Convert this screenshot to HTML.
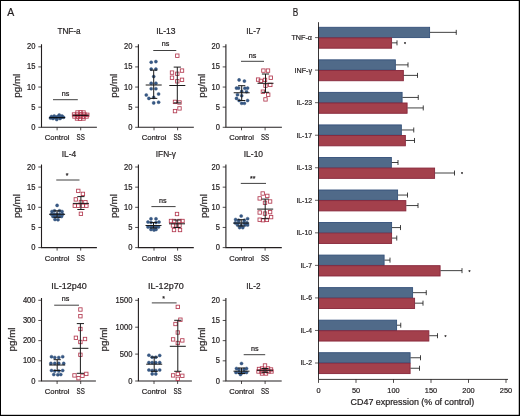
<!DOCTYPE html>
<html><head><meta charset="utf-8"><style>
html,body{margin:0;padding:0;background:#fff;}
body{width:520px;height:416px;overflow:hidden;position:relative;}
svg{position:absolute;left:0;top:0;display:block;will-change:transform;}
text{font-family:"Liberation Sans", sans-serif;fill:#231f20;stroke:#231f20;stroke-width:0.22px;}
</style></head><body>
<svg width="520" height="416" viewBox="0 0 520 416">
<rect x="0" y="0" width="520" height="416" fill="#ffffff"/>
<text x="7.2" y="16.1" font-size="11.2" text-anchor="start" textLength="7.0" lengthAdjust="spacingAndGlyphs">A</text>
<text x="292.8" y="15.8" font-size="11.0" text-anchor="start" textLength="5.5" lengthAdjust="spacingAndGlyphs">B</text>
<text x="69.0" y="34.0" font-size="9.2" text-anchor="middle" textLength="23.2" lengthAdjust="spacingAndGlyphs">TNF-a</text><text x="0" y="0" font-size="9" text-anchor="middle" textLength="24" lengthAdjust="spacingAndGlyphs" transform="translate(19.5,85.75) rotate(-90)">pg/ml</text><path d="M41.5,44.2V127.3H96.9" fill="none" stroke="#231f20" stroke-width="1.1"/><path d="M38.3,127.30H41.5" stroke="#231f20" stroke-width="0.8"/><text x="35.5" y="129.80" font-size="8.3" text-anchor="end" textLength="4.2" lengthAdjust="spacingAndGlyphs">0</text><path d="M38.3,107.17H41.5" stroke="#231f20" stroke-width="0.8"/><text x="35.5" y="109.67" font-size="8.3" text-anchor="end" textLength="4.2" lengthAdjust="spacingAndGlyphs">5</text><path d="M38.3,87.05H41.5" stroke="#231f20" stroke-width="0.8"/><text x="35.5" y="89.55" font-size="8.3" text-anchor="end" textLength="8.4" lengthAdjust="spacingAndGlyphs">10</text><path d="M38.3,66.92H41.5" stroke="#231f20" stroke-width="0.8"/><text x="35.5" y="69.42" font-size="8.3" text-anchor="end" textLength="8.4" lengthAdjust="spacingAndGlyphs">15</text><path d="M38.3,46.80H41.5" stroke="#231f20" stroke-width="0.8"/><text x="35.5" y="49.30" font-size="8.3" text-anchor="end" textLength="8.4" lengthAdjust="spacingAndGlyphs">20</text><path d="M57.1,127.3v3" stroke="#231f20" stroke-width="0.8"/><text x="57.1" y="140.3" font-size="8.1" text-anchor="middle" textLength="24.7" lengthAdjust="spacingAndGlyphs">Control</text><path d="M80.7,127.3v3" stroke="#231f20" stroke-width="0.8"/><text x="80.7" y="140.3" font-size="8.6" text-anchor="middle" textLength="8.2" lengthAdjust="spacingAndGlyphs">SS</text><path d="M53,99.7H77.8" stroke="#404040" stroke-width="1.0"/><text x="65.6" y="95.5" font-size="7" text-anchor="middle" textLength="7.6" lengthAdjust="spacingAndGlyphs">ns</text><circle cx="51.5" cy="116.5" r="1.55" fill="#375987" stroke="#2a4870" stroke-width="0.4"/><circle cx="54.25" cy="116" r="1.55" fill="#375987" stroke="#2a4870" stroke-width="0.4"/><circle cx="59.25" cy="115" r="1.55" fill="#375987" stroke="#2a4870" stroke-width="0.4"/><circle cx="62" cy="116" r="1.55" fill="#375987" stroke="#2a4870" stroke-width="0.4"/><circle cx="63.5" cy="117.3" r="1.55" fill="#375987" stroke="#2a4870" stroke-width="0.4"/><circle cx="50.5" cy="118" r="1.55" fill="#375987" stroke="#2a4870" stroke-width="0.4"/><circle cx="56.75" cy="119.5" r="1.55" fill="#375987" stroke="#2a4870" stroke-width="0.4"/><circle cx="53" cy="118.5" r="1.55" fill="#375987" stroke="#2a4870" stroke-width="0.4"/><circle cx="60" cy="118.5" r="1.55" fill="#375987" stroke="#2a4870" stroke-width="0.4"/><circle cx="57" cy="117" r="1.55" fill="#375987" stroke="#2a4870" stroke-width="0.4"/><circle cx="55" cy="117.5" r="1.55" fill="#375987" stroke="#2a4870" stroke-width="0.4"/><circle cx="61" cy="117.5" r="1.55" fill="#375987" stroke="#2a4870" stroke-width="0.4"/><circle cx="58" cy="116.5" r="1.55" fill="#375987" stroke="#2a4870" stroke-width="0.4"/><rect x="75.80" y="110.80" width="3.4" height="3.4" fill="none" stroke="#b33a50" stroke-width="0.85"/><rect x="78.80" y="110.60" width="3.4" height="3.4" fill="none" stroke="#b33a50" stroke-width="0.85"/><rect x="81.80" y="110.80" width="3.4" height="3.4" fill="none" stroke="#b33a50" stroke-width="0.85"/><rect x="72.30" y="112.80" width="3.4" height="3.4" fill="none" stroke="#b33a50" stroke-width="0.85"/><rect x="75.30" y="112.80" width="3.4" height="3.4" fill="none" stroke="#b33a50" stroke-width="0.85"/><rect x="79.30" y="112.60" width="3.4" height="3.4" fill="none" stroke="#b33a50" stroke-width="0.85"/><rect x="82.80" y="112.80" width="3.4" height="3.4" fill="none" stroke="#b33a50" stroke-width="0.85"/><rect x="85.60" y="113.10" width="3.4" height="3.4" fill="none" stroke="#b33a50" stroke-width="0.85"/><rect x="72.80" y="114.80" width="3.4" height="3.4" fill="none" stroke="#b33a50" stroke-width="0.85"/><rect x="76.30" y="115.00" width="3.4" height="3.4" fill="none" stroke="#b33a50" stroke-width="0.85"/><rect x="78.80" y="114.80" width="3.4" height="3.4" fill="none" stroke="#b33a50" stroke-width="0.85"/><rect x="81.30" y="115.00" width="3.4" height="3.4" fill="none" stroke="#b33a50" stroke-width="0.85"/><rect x="84.80" y="114.80" width="3.4" height="3.4" fill="none" stroke="#b33a50" stroke-width="0.85"/><rect x="75.30" y="116.80" width="3.4" height="3.4" fill="none" stroke="#b33a50" stroke-width="0.85"/><rect x="78.30" y="117.10" width="3.4" height="3.4" fill="none" stroke="#b33a50" stroke-width="0.85"/><rect x="81.80" y="116.80" width="3.4" height="3.4" fill="none" stroke="#b33a50" stroke-width="0.85"/><path d="M49.1,117.7H65.1" stroke="#000" stroke-width="1.0" fill="none"/><path d="M72.7,115.3H88.7" stroke="#000" stroke-width="1.0" fill="none"/><text x="165.9" y="34.0" font-size="9.2" text-anchor="middle" textLength="19.5" lengthAdjust="spacingAndGlyphs">IL-13</text><text x="0" y="0" font-size="9" text-anchor="middle" textLength="24" lengthAdjust="spacingAndGlyphs" transform="translate(116.5,85.75) rotate(-90)">pg/ml</text><path d="M138.4,44.2V127.3H193.85" fill="none" stroke="#231f20" stroke-width="1.1"/><path d="M135.20000000000002,127.30H138.4" stroke="#231f20" stroke-width="0.8"/><text x="132.4" y="129.80" font-size="8.3" text-anchor="end" textLength="4.2" lengthAdjust="spacingAndGlyphs">0</text><path d="M135.20000000000002,107.17H138.4" stroke="#231f20" stroke-width="0.8"/><text x="132.4" y="109.67" font-size="8.3" text-anchor="end" textLength="4.2" lengthAdjust="spacingAndGlyphs">5</text><path d="M135.20000000000002,87.05H138.4" stroke="#231f20" stroke-width="0.8"/><text x="132.4" y="89.55" font-size="8.3" text-anchor="end" textLength="8.4" lengthAdjust="spacingAndGlyphs">10</text><path d="M135.20000000000002,66.92H138.4" stroke="#231f20" stroke-width="0.8"/><text x="132.4" y="69.42" font-size="8.3" text-anchor="end" textLength="8.4" lengthAdjust="spacingAndGlyphs">15</text><path d="M135.20000000000002,46.80H138.4" stroke="#231f20" stroke-width="0.8"/><text x="132.4" y="49.30" font-size="8.3" text-anchor="end" textLength="8.4" lengthAdjust="spacingAndGlyphs">20</text><path d="M154.0,127.3v3" stroke="#231f20" stroke-width="0.8"/><text x="154.0" y="140.3" font-size="8.1" text-anchor="middle" textLength="24.7" lengthAdjust="spacingAndGlyphs">Control</text><path d="M177.60000000000002,127.3v3" stroke="#231f20" stroke-width="0.8"/><text x="177.60000000000002" y="140.3" font-size="8.6" text-anchor="middle" textLength="8.2" lengthAdjust="spacingAndGlyphs">SS</text><path d="M153.25,50.5H176.25" stroke="#404040" stroke-width="1.0"/><text x="165.6" y="46.0" font-size="7" text-anchor="middle" textLength="7.6" lengthAdjust="spacingAndGlyphs">ns</text><circle cx="151.2" cy="62.2" r="1.55" fill="#375987" stroke="#2a4870" stroke-width="0.4"/><circle cx="155.9" cy="61.6" r="1.55" fill="#375987" stroke="#2a4870" stroke-width="0.4"/><circle cx="151.2" cy="69.1" r="1.55" fill="#375987" stroke="#2a4870" stroke-width="0.4"/><circle cx="155.9" cy="69.1" r="1.55" fill="#375987" stroke="#2a4870" stroke-width="0.4"/><circle cx="153.7" cy="76.5" r="1.55" fill="#375987" stroke="#2a4870" stroke-width="0.4"/><circle cx="151.2" cy="83.2" r="1.55" fill="#375987" stroke="#2a4870" stroke-width="0.4"/><circle cx="155.9" cy="83.2" r="1.55" fill="#375987" stroke="#2a4870" stroke-width="0.4"/><circle cx="151.2" cy="88.7" r="1.55" fill="#375987" stroke="#2a4870" stroke-width="0.4"/><circle cx="155.9" cy="88.7" r="1.55" fill="#375987" stroke="#2a4870" stroke-width="0.4"/><circle cx="146.3" cy="95" r="1.55" fill="#375987" stroke="#2a4870" stroke-width="0.4"/><circle cx="158.6" cy="94" r="1.55" fill="#375987" stroke="#2a4870" stroke-width="0.4"/><circle cx="148.9" cy="98.4" r="1.55" fill="#375987" stroke="#2a4870" stroke-width="0.4"/><circle cx="153.7" cy="97.4" r="1.55" fill="#375987" stroke="#2a4870" stroke-width="0.4"/><circle cx="153.7" cy="102.9" r="1.55" fill="#375987" stroke="#2a4870" stroke-width="0.4"/><circle cx="158.6" cy="102.2" r="1.55" fill="#375987" stroke="#2a4870" stroke-width="0.4"/><rect x="175.60" y="54.00" width="3.4" height="3.4" fill="none" stroke="#b33a50" stroke-width="0.85"/><rect x="180.30" y="68.90" width="3.4" height="3.4" fill="none" stroke="#b33a50" stroke-width="0.85"/><rect x="170.30" y="70.90" width="3.4" height="3.4" fill="none" stroke="#b33a50" stroke-width="0.85"/><rect x="175.60" y="72.10" width="3.4" height="3.4" fill="none" stroke="#b33a50" stroke-width="0.85"/><rect x="170.30" y="76.00" width="3.4" height="3.4" fill="none" stroke="#b33a50" stroke-width="0.85"/><rect x="180.30" y="78.10" width="3.4" height="3.4" fill="none" stroke="#b33a50" stroke-width="0.85"/><rect x="175.60" y="79.60" width="3.4" height="3.4" fill="none" stroke="#b33a50" stroke-width="0.85"/><rect x="173.30" y="100.20" width="3.4" height="3.4" fill="none" stroke="#b33a50" stroke-width="0.85"/><rect x="177.80" y="100.80" width="3.4" height="3.4" fill="none" stroke="#b33a50" stroke-width="0.85"/><rect x="177.80" y="106.70" width="3.4" height="3.4" fill="none" stroke="#b33a50" stroke-width="0.85"/><rect x="173.30" y="109.40" width="3.4" height="3.4" fill="none" stroke="#b33a50" stroke-width="0.85"/><path d="M145.7,85H161.7M153.7,70.1V98.4M150.1,70.1H157.29999999999998M150.1,98.4H157.29999999999998" stroke="#1a1a1a" stroke-width="1.0" fill="none"/><path d="M169.3,85.5H185.3M177.3,67.1V102.9M173.70000000000002,67.1H180.9M173.70000000000002,102.9H180.9" stroke="#1a1a1a" stroke-width="1.0" fill="none"/><text x="253.4" y="34.0" font-size="9.2" text-anchor="middle" textLength="14.1" lengthAdjust="spacingAndGlyphs">IL-7</text><text x="0" y="0" font-size="9" text-anchor="middle" textLength="24" lengthAdjust="spacingAndGlyphs" transform="translate(204.70000000000002,85.75) rotate(-90)">pg/ml</text><path d="M225.9,44.2V127.3H281.9" fill="none" stroke="#231f20" stroke-width="1.1"/><path d="M222.70000000000002,127.30H225.9" stroke="#231f20" stroke-width="0.8"/><text x="219.9" y="129.80" font-size="8.3" text-anchor="end" textLength="4.2" lengthAdjust="spacingAndGlyphs">0</text><path d="M222.70000000000002,107.17H225.9" stroke="#231f20" stroke-width="0.8"/><text x="219.9" y="109.67" font-size="8.3" text-anchor="end" textLength="4.2" lengthAdjust="spacingAndGlyphs">5</text><path d="M222.70000000000002,87.05H225.9" stroke="#231f20" stroke-width="0.8"/><text x="219.9" y="89.55" font-size="8.3" text-anchor="end" textLength="8.4" lengthAdjust="spacingAndGlyphs">10</text><path d="M222.70000000000002,66.92H225.9" stroke="#231f20" stroke-width="0.8"/><text x="219.9" y="69.42" font-size="8.3" text-anchor="end" textLength="8.4" lengthAdjust="spacingAndGlyphs">15</text><path d="M222.70000000000002,46.80H225.9" stroke="#231f20" stroke-width="0.8"/><text x="219.9" y="49.30" font-size="8.3" text-anchor="end" textLength="8.4" lengthAdjust="spacingAndGlyphs">20</text><path d="M241.5,127.3v3" stroke="#231f20" stroke-width="0.8"/><text x="241.5" y="140.3" font-size="8.1" text-anchor="middle" textLength="24.7" lengthAdjust="spacingAndGlyphs">Control</text><path d="M265.1,127.3v3" stroke="#231f20" stroke-width="0.8"/><text x="265.1" y="140.3" font-size="8.6" text-anchor="middle" textLength="8.2" lengthAdjust="spacingAndGlyphs">SS</text><path d="M241,61.3H264" stroke="#404040" stroke-width="1.0"/><text x="252.5" y="58.0" font-size="7" text-anchor="middle" textLength="7.6" lengthAdjust="spacingAndGlyphs">ns</text><circle cx="239.1" cy="79.9" r="1.55" fill="#375987" stroke="#2a4870" stroke-width="0.4"/><circle cx="244.4" cy="81.1" r="1.55" fill="#375987" stroke="#2a4870" stroke-width="0.4"/><circle cx="236.5" cy="88.1" r="1.55" fill="#375987" stroke="#2a4870" stroke-width="0.4"/><circle cx="238.6" cy="88.1" r="1.55" fill="#375987" stroke="#2a4870" stroke-width="0.4"/><circle cx="244.9" cy="88.3" r="1.55" fill="#375987" stroke="#2a4870" stroke-width="0.4"/><circle cx="247.6" cy="88.1" r="1.55" fill="#375987" stroke="#2a4870" stroke-width="0.4"/><circle cx="241.7" cy="91.3" r="1.55" fill="#375987" stroke="#2a4870" stroke-width="0.4"/><circle cx="246.5" cy="91.7" r="1.55" fill="#375987" stroke="#2a4870" stroke-width="0.4"/><circle cx="237.5" cy="94.7" r="1.55" fill="#375987" stroke="#2a4870" stroke-width="0.4"/><circle cx="241.7" cy="95.7" r="1.55" fill="#375987" stroke="#2a4870" stroke-width="0.4"/><circle cx="236.5" cy="98.4" r="1.55" fill="#375987" stroke="#2a4870" stroke-width="0.4"/><circle cx="239.1" cy="100.5" r="1.55" fill="#375987" stroke="#2a4870" stroke-width="0.4"/><circle cx="247.6" cy="100.5" r="1.55" fill="#375987" stroke="#2a4870" stroke-width="0.4"/><circle cx="241.7" cy="103.3" r="1.55" fill="#375987" stroke="#2a4870" stroke-width="0.4"/><circle cx="244.4" cy="103.3" r="1.55" fill="#375987" stroke="#2a4870" stroke-width="0.4"/><rect x="261.70" y="68.90" width="3.4" height="3.4" fill="none" stroke="#b33a50" stroke-width="0.85"/><rect x="266.30" y="68.90" width="3.4" height="3.4" fill="none" stroke="#b33a50" stroke-width="0.85"/><rect x="256.40" y="77.90" width="3.4" height="3.4" fill="none" stroke="#b33a50" stroke-width="0.85"/><rect x="259.10" y="79.20" width="3.4" height="3.4" fill="none" stroke="#b33a50" stroke-width="0.85"/><rect x="263.30" y="78.20" width="3.4" height="3.4" fill="none" stroke="#b33a50" stroke-width="0.85"/><rect x="269.10" y="76.00" width="3.4" height="3.4" fill="none" stroke="#b33a50" stroke-width="0.85"/><rect x="263.80" y="84.00" width="3.4" height="3.4" fill="none" stroke="#b33a50" stroke-width="0.85"/><rect x="268.60" y="83.20" width="3.4" height="3.4" fill="none" stroke="#b33a50" stroke-width="0.85"/><rect x="261.20" y="90.00" width="3.4" height="3.4" fill="none" stroke="#b33a50" stroke-width="0.85"/><rect x="266.50" y="93.00" width="3.4" height="3.4" fill="none" stroke="#b33a50" stroke-width="0.85"/><rect x="263.80" y="97.70" width="3.4" height="3.4" fill="none" stroke="#b33a50" stroke-width="0.85"/><path d="M233.7,92.75H249.7M241.7,85.7V100.5M238.1,85.7H245.29999999999998M238.1,100.5H245.29999999999998" stroke="#1a1a1a" stroke-width="1.0" fill="none"/><path d="M257.5,83.3H273.5M265.5,74V92.3M261.9,74H269.1M261.9,92.3H269.1" stroke="#1a1a1a" stroke-width="1.0" fill="none"/><text x="69.0" y="156.9" font-size="9.2" text-anchor="middle" textLength="14.5" lengthAdjust="spacingAndGlyphs">IL-4</text><text x="0" y="0" font-size="9" text-anchor="middle" textLength="24" lengthAdjust="spacingAndGlyphs" transform="translate(19.9,206.1) rotate(-90)">pg/ml</text><path d="M41.5,164.6V247.6H96.9" fill="none" stroke="#231f20" stroke-width="1.1"/><path d="M38.3,247.60H41.5" stroke="#231f20" stroke-width="0.8"/><text x="35.5" y="250.10" font-size="8.3" text-anchor="end" textLength="4.2" lengthAdjust="spacingAndGlyphs">0</text><path d="M38.3,227.45H41.5" stroke="#231f20" stroke-width="0.8"/><text x="35.5" y="229.95" font-size="8.3" text-anchor="end" textLength="4.2" lengthAdjust="spacingAndGlyphs">5</text><path d="M38.3,207.30H41.5" stroke="#231f20" stroke-width="0.8"/><text x="35.5" y="209.80" font-size="8.3" text-anchor="end" textLength="8.4" lengthAdjust="spacingAndGlyphs">10</text><path d="M38.3,187.15H41.5" stroke="#231f20" stroke-width="0.8"/><text x="35.5" y="189.65" font-size="8.3" text-anchor="end" textLength="8.4" lengthAdjust="spacingAndGlyphs">15</text><path d="M38.3,167.00H41.5" stroke="#231f20" stroke-width="0.8"/><text x="35.5" y="169.50" font-size="8.3" text-anchor="end" textLength="8.4" lengthAdjust="spacingAndGlyphs">20</text><path d="M57.1,247.6v3" stroke="#231f20" stroke-width="0.8"/><text x="57.1" y="261.1" font-size="8.1" text-anchor="middle" textLength="24.7" lengthAdjust="spacingAndGlyphs">Control</text><path d="M80.7,247.6v3" stroke="#231f20" stroke-width="0.8"/><text x="80.7" y="261.1" font-size="8.6" text-anchor="middle" textLength="8.2" lengthAdjust="spacingAndGlyphs">SS</text><path d="M56.25,180H79.5" stroke="#404040" stroke-width="1.0"/><text x="67" y="177.6" font-size="7" text-anchor="middle">*</text><circle cx="57.1" cy="205.4" r="1.55" fill="#375987" stroke="#2a4870" stroke-width="0.4"/><circle cx="52" cy="211.5" r="1.55" fill="#375987" stroke="#2a4870" stroke-width="0.4"/><circle cx="54.5" cy="210.8" r="1.55" fill="#375987" stroke="#2a4870" stroke-width="0.4"/><circle cx="59.5" cy="210.8" r="1.55" fill="#375987" stroke="#2a4870" stroke-width="0.4"/><circle cx="62" cy="211.5" r="1.55" fill="#375987" stroke="#2a4870" stroke-width="0.4"/><circle cx="51.5" cy="214.3" r="1.55" fill="#375987" stroke="#2a4870" stroke-width="0.4"/><circle cx="54" cy="214.3" r="1.55" fill="#375987" stroke="#2a4870" stroke-width="0.4"/><circle cx="56.6" cy="214.3" r="1.55" fill="#375987" stroke="#2a4870" stroke-width="0.4"/><circle cx="59.6" cy="214.3" r="1.55" fill="#375987" stroke="#2a4870" stroke-width="0.4"/><circle cx="62.6" cy="214.3" r="1.55" fill="#375987" stroke="#2a4870" stroke-width="0.4"/><circle cx="53" cy="216.5" r="1.55" fill="#375987" stroke="#2a4870" stroke-width="0.4"/><circle cx="55.5" cy="216.5" r="1.55" fill="#375987" stroke="#2a4870" stroke-width="0.4"/><circle cx="59" cy="216.5" r="1.55" fill="#375987" stroke="#2a4870" stroke-width="0.4"/><circle cx="61.5" cy="216.5" r="1.55" fill="#375987" stroke="#2a4870" stroke-width="0.4"/><circle cx="55" cy="219.5" r="1.55" fill="#375987" stroke="#2a4870" stroke-width="0.4"/><circle cx="58" cy="219.8" r="1.55" fill="#375987" stroke="#2a4870" stroke-width="0.4"/><rect x="76.60" y="189.20" width="3.4" height="3.4" fill="none" stroke="#b33a50" stroke-width="0.85"/><rect x="81.20" y="192.20" width="3.4" height="3.4" fill="none" stroke="#b33a50" stroke-width="0.85"/><rect x="74.10" y="197.70" width="3.4" height="3.4" fill="none" stroke="#b33a50" stroke-width="0.85"/><rect x="79.20" y="200.30" width="3.4" height="3.4" fill="none" stroke="#b33a50" stroke-width="0.85"/><rect x="83.70" y="200.50" width="3.4" height="3.4" fill="none" stroke="#b33a50" stroke-width="0.85"/><rect x="73.10" y="204.00" width="3.4" height="3.4" fill="none" stroke="#b33a50" stroke-width="0.85"/><rect x="76.60" y="204.00" width="3.4" height="3.4" fill="none" stroke="#b33a50" stroke-width="0.85"/><rect x="81.10" y="204.00" width="3.4" height="3.4" fill="none" stroke="#b33a50" stroke-width="0.85"/><rect x="84.70" y="204.00" width="3.4" height="3.4" fill="none" stroke="#b33a50" stroke-width="0.85"/><rect x="79.20" y="212.10" width="3.4" height="3.4" fill="none" stroke="#b33a50" stroke-width="0.85"/><path d="M49.1,214.3H65.1M57.1,210.8V217.3M53.5,210.8H60.7M53.5,217.3H60.7" stroke="#1a1a1a" stroke-width="1.0" fill="none"/><path d="M72.9,203.4H88.9M80.9,196.6V209.5M77.30000000000001,196.6H84.5M77.30000000000001,209.5H84.5" stroke="#1a1a1a" stroke-width="1.0" fill="none"/><text x="165.9" y="156.9" font-size="9.2" text-anchor="middle" textLength="20.25" lengthAdjust="spacingAndGlyphs">IFN-&#947;</text><text x="0" y="0" font-size="9" text-anchor="middle" textLength="24" lengthAdjust="spacingAndGlyphs" transform="translate(116.7,206.1) rotate(-90)">pg/ml</text><path d="M138.4,164.6V247.6H193.8" fill="none" stroke="#231f20" stroke-width="1.1"/><path d="M135.20000000000002,247.60H138.4" stroke="#231f20" stroke-width="0.8"/><text x="132.4" y="250.10" font-size="8.3" text-anchor="end" textLength="4.2" lengthAdjust="spacingAndGlyphs">0</text><path d="M135.20000000000002,227.45H138.4" stroke="#231f20" stroke-width="0.8"/><text x="132.4" y="229.95" font-size="8.3" text-anchor="end" textLength="4.2" lengthAdjust="spacingAndGlyphs">5</text><path d="M135.20000000000002,207.30H138.4" stroke="#231f20" stroke-width="0.8"/><text x="132.4" y="209.80" font-size="8.3" text-anchor="end" textLength="8.4" lengthAdjust="spacingAndGlyphs">10</text><path d="M135.20000000000002,187.15H138.4" stroke="#231f20" stroke-width="0.8"/><text x="132.4" y="189.65" font-size="8.3" text-anchor="end" textLength="8.4" lengthAdjust="spacingAndGlyphs">15</text><path d="M135.20000000000002,167.00H138.4" stroke="#231f20" stroke-width="0.8"/><text x="132.4" y="169.50" font-size="8.3" text-anchor="end" textLength="8.4" lengthAdjust="spacingAndGlyphs">20</text><path d="M154.0,247.6v3" stroke="#231f20" stroke-width="0.8"/><text x="154.0" y="261.1" font-size="8.1" text-anchor="middle" textLength="24.7" lengthAdjust="spacingAndGlyphs">Control</text><path d="M177.60000000000002,247.6v3" stroke="#231f20" stroke-width="0.8"/><text x="177.60000000000002" y="261.1" font-size="8.6" text-anchor="middle" textLength="8.2" lengthAdjust="spacingAndGlyphs">SS</text><path d="M151.4,206.6H175.6" stroke="#404040" stroke-width="1.0"/><text x="162.75" y="203.0" font-size="7" text-anchor="middle" textLength="7.6" lengthAdjust="spacingAndGlyphs">ns</text><circle cx="151" cy="218.8" r="1.55" fill="#375987" stroke="#2a4870" stroke-width="0.4"/><circle cx="156" cy="218.8" r="1.55" fill="#375987" stroke="#2a4870" stroke-width="0.4"/><circle cx="148" cy="222" r="1.55" fill="#375987" stroke="#2a4870" stroke-width="0.4"/><circle cx="159" cy="222" r="1.55" fill="#375987" stroke="#2a4870" stroke-width="0.4"/><circle cx="151" cy="222.5" r="1.55" fill="#375987" stroke="#2a4870" stroke-width="0.4"/><circle cx="156" cy="222.5" r="1.55" fill="#375987" stroke="#2a4870" stroke-width="0.4"/><circle cx="148" cy="227" r="1.55" fill="#375987" stroke="#2a4870" stroke-width="0.4"/><circle cx="151" cy="227" r="1.55" fill="#375987" stroke="#2a4870" stroke-width="0.4"/><circle cx="153.5" cy="227" r="1.55" fill="#375987" stroke="#2a4870" stroke-width="0.4"/><circle cx="156" cy="227" r="1.55" fill="#375987" stroke="#2a4870" stroke-width="0.4"/><circle cx="158.5" cy="227" r="1.55" fill="#375987" stroke="#2a4870" stroke-width="0.4"/><circle cx="151" cy="229.5" r="1.55" fill="#375987" stroke="#2a4870" stroke-width="0.4"/><circle cx="154" cy="230" r="1.55" fill="#375987" stroke="#2a4870" stroke-width="0.4"/><circle cx="156" cy="229.5" r="1.55" fill="#375987" stroke="#2a4870" stroke-width="0.4"/><rect x="175.30" y="212.30" width="3.4" height="3.4" fill="none" stroke="#b33a50" stroke-width="0.85"/><rect x="169.30" y="219.30" width="3.4" height="3.4" fill="none" stroke="#b33a50" stroke-width="0.85"/><rect x="172.30" y="219.30" width="3.4" height="3.4" fill="none" stroke="#b33a50" stroke-width="0.85"/><rect x="177.80" y="219.30" width="3.4" height="3.4" fill="none" stroke="#b33a50" stroke-width="0.85"/><rect x="180.80" y="219.30" width="3.4" height="3.4" fill="none" stroke="#b33a50" stroke-width="0.85"/><rect x="171.30" y="223.80" width="3.4" height="3.4" fill="none" stroke="#b33a50" stroke-width="0.85"/><rect x="174.80" y="223.80" width="3.4" height="3.4" fill="none" stroke="#b33a50" stroke-width="0.85"/><rect x="177.80" y="223.80" width="3.4" height="3.4" fill="none" stroke="#b33a50" stroke-width="0.85"/><rect x="172.30" y="228.30" width="3.4" height="3.4" fill="none" stroke="#b33a50" stroke-width="0.85"/><rect x="178.30" y="228.30" width="3.4" height="3.4" fill="none" stroke="#b33a50" stroke-width="0.85"/><path d="M145.5,225.5H161.5M153.5,222.5V228M149.9,222.5H157.1M149.9,228H157.1" stroke="#1a1a1a" stroke-width="1.0" fill="none"/><path d="M169,223.8H185M177,220V227.5M173.4,220H180.6M173.4,227.5H180.6" stroke="#1a1a1a" stroke-width="1.0" fill="none"/><text x="253.4" y="156.9" font-size="9.2" text-anchor="middle" textLength="19.3" lengthAdjust="spacingAndGlyphs">IL-10</text><text x="0" y="0" font-size="9" text-anchor="middle" textLength="24" lengthAdjust="spacingAndGlyphs" transform="translate(207.0,206.1) rotate(-90)">pg/ml</text><path d="M225.9,164.6V247.6H281.8" fill="none" stroke="#231f20" stroke-width="1.1"/><path d="M222.70000000000002,247.60H225.9" stroke="#231f20" stroke-width="0.8"/><text x="219.9" y="250.10" font-size="8.3" text-anchor="end" textLength="4.2" lengthAdjust="spacingAndGlyphs">0</text><path d="M222.70000000000002,227.45H225.9" stroke="#231f20" stroke-width="0.8"/><text x="219.9" y="229.95" font-size="8.3" text-anchor="end" textLength="4.2" lengthAdjust="spacingAndGlyphs">5</text><path d="M222.70000000000002,207.30H225.9" stroke="#231f20" stroke-width="0.8"/><text x="219.9" y="209.80" font-size="8.3" text-anchor="end" textLength="8.4" lengthAdjust="spacingAndGlyphs">10</text><path d="M222.70000000000002,187.15H225.9" stroke="#231f20" stroke-width="0.8"/><text x="219.9" y="189.65" font-size="8.3" text-anchor="end" textLength="8.4" lengthAdjust="spacingAndGlyphs">15</text><path d="M222.70000000000002,167.00H225.9" stroke="#231f20" stroke-width="0.8"/><text x="219.9" y="169.50" font-size="8.3" text-anchor="end" textLength="8.4" lengthAdjust="spacingAndGlyphs">20</text><path d="M241.5,247.6v3" stroke="#231f20" stroke-width="0.8"/><text x="241.5" y="261.1" font-size="8.1" text-anchor="middle" textLength="24.7" lengthAdjust="spacingAndGlyphs">Control</text><path d="M265.1,247.6v3" stroke="#231f20" stroke-width="0.8"/><text x="265.1" y="261.1" font-size="8.6" text-anchor="middle" textLength="8.2" lengthAdjust="spacingAndGlyphs">SS</text><path d="M240.8,183.4H266" stroke="#404040" stroke-width="1.0"/><text x="252.7" y="181.1" font-size="7" text-anchor="middle">**</text><circle cx="241.2" cy="216" r="1.55" fill="#375987" stroke="#2a4870" stroke-width="0.4"/><circle cx="235.6" cy="219.5" r="1.55" fill="#375987" stroke="#2a4870" stroke-width="0.4"/><circle cx="238.6" cy="220.2" r="1.55" fill="#375987" stroke="#2a4870" stroke-width="0.4"/><circle cx="244.4" cy="220.2" r="1.55" fill="#375987" stroke="#2a4870" stroke-width="0.4"/><circle cx="247.6" cy="218.7" r="1.55" fill="#375987" stroke="#2a4870" stroke-width="0.4"/><circle cx="235.4" cy="222.9" r="1.55" fill="#375987" stroke="#2a4870" stroke-width="0.4"/><circle cx="238.6" cy="222.5" r="1.55" fill="#375987" stroke="#2a4870" stroke-width="0.4"/><circle cx="243.9" cy="222.5" r="1.55" fill="#375987" stroke="#2a4870" stroke-width="0.4"/><circle cx="247" cy="222.9" r="1.55" fill="#375987" stroke="#2a4870" stroke-width="0.4"/><circle cx="237.5" cy="225" r="1.55" fill="#375987" stroke="#2a4870" stroke-width="0.4"/><circle cx="241.2" cy="225.5" r="1.55" fill="#375987" stroke="#2a4870" stroke-width="0.4"/><circle cx="245" cy="225" r="1.55" fill="#375987" stroke="#2a4870" stroke-width="0.4"/><circle cx="247.6" cy="225" r="1.55" fill="#375987" stroke="#2a4870" stroke-width="0.4"/><circle cx="239.6" cy="227.6" r="1.55" fill="#375987" stroke="#2a4870" stroke-width="0.4"/><circle cx="242.8" cy="227.6" r="1.55" fill="#375987" stroke="#2a4870" stroke-width="0.4"/><rect x="261.00" y="191.80" width="3.4" height="3.4" fill="none" stroke="#b33a50" stroke-width="0.85"/><rect x="265.60" y="194.20" width="3.4" height="3.4" fill="none" stroke="#b33a50" stroke-width="0.85"/><rect x="258.00" y="196.70" width="3.4" height="3.4" fill="none" stroke="#b33a50" stroke-width="0.85"/><rect x="268.40" y="199.80" width="3.4" height="3.4" fill="none" stroke="#b33a50" stroke-width="0.85"/><rect x="263.30" y="201.10" width="3.4" height="3.4" fill="none" stroke="#b33a50" stroke-width="0.85"/><rect x="258.00" y="210.80" width="3.4" height="3.4" fill="none" stroke="#b33a50" stroke-width="0.85"/><rect x="263.30" y="211.90" width="3.4" height="3.4" fill="none" stroke="#b33a50" stroke-width="0.85"/><rect x="268.40" y="210.40" width="3.4" height="3.4" fill="none" stroke="#b33a50" stroke-width="0.85"/><rect x="269.40" y="215.40" width="3.4" height="3.4" fill="none" stroke="#b33a50" stroke-width="0.85"/><rect x="258.00" y="218.00" width="3.4" height="3.4" fill="none" stroke="#b33a50" stroke-width="0.85"/><rect x="261.20" y="218.50" width="3.4" height="3.4" fill="none" stroke="#b33a50" stroke-width="0.85"/><rect x="265.20" y="218.20" width="3.4" height="3.4" fill="none" stroke="#b33a50" stroke-width="0.85"/><path d="M233.2,223.1H249.2M241.2,219.7V226M237.6,219.7H244.79999999999998M237.6,226H244.79999999999998" stroke="#1a1a1a" stroke-width="1.0" fill="none"/><path d="M257.2,209.1H273.2M265.2,199.1V218.7M261.59999999999997,199.1H268.8M261.59999999999997,218.7H268.8" stroke="#1a1a1a" stroke-width="1.0" fill="none"/><text x="69.0" y="289.2" font-size="9.2" text-anchor="middle" textLength="35.5" lengthAdjust="spacingAndGlyphs">IL-12p40</text><text x="0" y="0" font-size="9" text-anchor="middle" textLength="24" lengthAdjust="spacingAndGlyphs" transform="translate(14.8,339.5) rotate(-90)">pg/ml</text><path d="M41.5,298.0V381.0H95.9" fill="none" stroke="#231f20" stroke-width="1.1"/><path d="M38.3,381.00H41.5" stroke="#231f20" stroke-width="0.8"/><text x="35.5" y="383.50" font-size="8.3" text-anchor="end" textLength="4.2" lengthAdjust="spacingAndGlyphs">0</text><path d="M38.3,360.82H41.5" stroke="#231f20" stroke-width="0.8"/><text x="35.5" y="363.32" font-size="8.3" text-anchor="end" textLength="12.6" lengthAdjust="spacingAndGlyphs">100</text><path d="M38.3,340.65H41.5" stroke="#231f20" stroke-width="0.8"/><text x="35.5" y="343.15" font-size="8.3" text-anchor="end" textLength="12.6" lengthAdjust="spacingAndGlyphs">200</text><path d="M38.3,320.48H41.5" stroke="#231f20" stroke-width="0.8"/><text x="35.5" y="322.98" font-size="8.3" text-anchor="end" textLength="12.6" lengthAdjust="spacingAndGlyphs">300</text><path d="M38.3,300.30H41.5" stroke="#231f20" stroke-width="0.8"/><text x="35.5" y="302.80" font-size="8.3" text-anchor="end" textLength="12.6" lengthAdjust="spacingAndGlyphs">400</text><path d="M57.1,381.0v3" stroke="#231f20" stroke-width="0.8"/><text x="57.1" y="394.0" font-size="8.1" text-anchor="middle" textLength="24.7" lengthAdjust="spacingAndGlyphs">Control</text><path d="M80.7,381.0v3" stroke="#231f20" stroke-width="0.8"/><text x="80.7" y="394.0" font-size="8.6" text-anchor="middle" textLength="8.2" lengthAdjust="spacingAndGlyphs">SS</text><path d="M54.2,305.2H79" stroke="#404040" stroke-width="1.0"/><text x="65.6" y="301.0" font-size="7" text-anchor="middle" textLength="7.6" lengthAdjust="spacingAndGlyphs">ns</text><circle cx="51.5" cy="356.7" r="1.55" fill="#375987" stroke="#2a4870" stroke-width="0.4"/><circle cx="54.8" cy="357.5" r="1.55" fill="#375987" stroke="#2a4870" stroke-width="0.4"/><circle cx="58.8" cy="357.5" r="1.55" fill="#375987" stroke="#2a4870" stroke-width="0.4"/><circle cx="62.7" cy="356.7" r="1.55" fill="#375987" stroke="#2a4870" stroke-width="0.4"/><circle cx="50.9" cy="363.4" r="1.55" fill="#375987" stroke="#2a4870" stroke-width="0.4"/><circle cx="54.8" cy="363.4" r="1.55" fill="#375987" stroke="#2a4870" stroke-width="0.4"/><circle cx="58.8" cy="363.4" r="1.55" fill="#375987" stroke="#2a4870" stroke-width="0.4"/><circle cx="63.7" cy="363.4" r="1.55" fill="#375987" stroke="#2a4870" stroke-width="0.4"/><circle cx="51.5" cy="370.5" r="1.55" fill="#375987" stroke="#2a4870" stroke-width="0.4"/><circle cx="54.8" cy="371" r="1.55" fill="#375987" stroke="#2a4870" stroke-width="0.4"/><circle cx="58.8" cy="371" r="1.55" fill="#375987" stroke="#2a4870" stroke-width="0.4"/><circle cx="62.7" cy="370.5" r="1.55" fill="#375987" stroke="#2a4870" stroke-width="0.4"/><circle cx="53.8" cy="374.5" r="1.55" fill="#375987" stroke="#2a4870" stroke-width="0.4"/><circle cx="57.8" cy="374.8" r="1.55" fill="#375987" stroke="#2a4870" stroke-width="0.4"/><circle cx="60.8" cy="374.5" r="1.55" fill="#375987" stroke="#2a4870" stroke-width="0.4"/><rect x="78.70" y="307.80" width="3.4" height="3.4" fill="none" stroke="#b33a50" stroke-width="0.85"/><rect x="78.70" y="314.50" width="3.4" height="3.4" fill="none" stroke="#b33a50" stroke-width="0.85"/><rect x="78.70" y="327.30" width="3.4" height="3.4" fill="none" stroke="#b33a50" stroke-width="0.85"/><rect x="74.20" y="336.10" width="3.4" height="3.4" fill="none" stroke="#b33a50" stroke-width="0.85"/><rect x="83.30" y="337.30" width="3.4" height="3.4" fill="none" stroke="#b33a50" stroke-width="0.85"/><rect x="78.70" y="340.30" width="3.4" height="3.4" fill="none" stroke="#b33a50" stroke-width="0.85"/><rect x="78.70" y="353.10" width="3.4" height="3.4" fill="none" stroke="#b33a50" stroke-width="0.85"/><rect x="72.80" y="373.70" width="3.4" height="3.4" fill="none" stroke="#b33a50" stroke-width="0.85"/><rect x="76.80" y="376.50" width="3.4" height="3.4" fill="none" stroke="#b33a50" stroke-width="0.85"/><rect x="80.70" y="374.10" width="3.4" height="3.4" fill="none" stroke="#b33a50" stroke-width="0.85"/><rect x="84.60" y="372.20" width="3.4" height="3.4" fill="none" stroke="#b33a50" stroke-width="0.85"/><path d="M49.2,365H65.2M57.2,359.7V370.5M53.6,359.7H60.800000000000004M53.6,370.5H60.800000000000004" stroke="#1a1a1a" stroke-width="1.0" fill="none"/><path d="M72.4,348.3H88.4M80.4,323.6V373.3M76.80000000000001,323.6H84.0M76.80000000000001,373.3H84.0" stroke="#1a1a1a" stroke-width="1.0" fill="none"/><text x="165.9" y="289.2" font-size="9.2" text-anchor="middle" textLength="35.6" lengthAdjust="spacingAndGlyphs">IL-12p70</text><text x="0" y="0" font-size="9" text-anchor="middle" textLength="24" lengthAdjust="spacingAndGlyphs" transform="translate(106.7,339.5) rotate(-90)">pg/ml</text><path d="M138.4,298.0V381.0H191.9" fill="none" stroke="#231f20" stroke-width="1.1"/><path d="M135.20000000000002,381.00H138.4" stroke="#231f20" stroke-width="0.8"/><text x="132.4" y="383.50" font-size="8.3" text-anchor="end" textLength="4.2" lengthAdjust="spacingAndGlyphs">0</text><path d="M135.20000000000002,354.10H138.4" stroke="#231f20" stroke-width="0.8"/><text x="132.4" y="356.60" font-size="8.3" text-anchor="end" textLength="12.6" lengthAdjust="spacingAndGlyphs">500</text><path d="M135.20000000000002,327.20H138.4" stroke="#231f20" stroke-width="0.8"/><text x="132.4" y="329.70" font-size="8.3" text-anchor="end" textLength="16.8" lengthAdjust="spacingAndGlyphs">1000</text><path d="M135.20000000000002,300.30H138.4" stroke="#231f20" stroke-width="0.8"/><text x="132.4" y="302.80" font-size="8.3" text-anchor="end" textLength="16.8" lengthAdjust="spacingAndGlyphs">1500</text><path d="M154.0,381.0v3" stroke="#231f20" stroke-width="0.8"/><text x="154.0" y="394.0" font-size="8.1" text-anchor="middle" textLength="24.7" lengthAdjust="spacingAndGlyphs">Control</text><path d="M177.60000000000002,381.0v3" stroke="#231f20" stroke-width="0.8"/><text x="177.60000000000002" y="394.0" font-size="8.6" text-anchor="middle" textLength="8.2" lengthAdjust="spacingAndGlyphs">SS</text><path d="M151.8,302.9H176.6" stroke="#404040" stroke-width="1.0"/><text x="163.6" y="300.8" font-size="7" text-anchor="middle">*</text><circle cx="148.9" cy="355.2" r="1.55" fill="#375987" stroke="#2a4870" stroke-width="0.4"/><circle cx="152.2" cy="357.2" r="1.55" fill="#375987" stroke="#2a4870" stroke-width="0.4"/><circle cx="155.8" cy="357.2" r="1.55" fill="#375987" stroke="#2a4870" stroke-width="0.4"/><circle cx="159.7" cy="355.5" r="1.55" fill="#375987" stroke="#2a4870" stroke-width="0.4"/><circle cx="148.9" cy="362.6" r="1.55" fill="#375987" stroke="#2a4870" stroke-width="0.4"/><circle cx="152.2" cy="362.6" r="1.55" fill="#375987" stroke="#2a4870" stroke-width="0.4"/><circle cx="155.8" cy="362.6" r="1.55" fill="#375987" stroke="#2a4870" stroke-width="0.4"/><circle cx="159.7" cy="362.6" r="1.55" fill="#375987" stroke="#2a4870" stroke-width="0.4"/><circle cx="148.9" cy="370" r="1.55" fill="#375987" stroke="#2a4870" stroke-width="0.4"/><circle cx="152.2" cy="370.5" r="1.55" fill="#375987" stroke="#2a4870" stroke-width="0.4"/><circle cx="155.8" cy="370.5" r="1.55" fill="#375987" stroke="#2a4870" stroke-width="0.4"/><circle cx="159.7" cy="370" r="1.55" fill="#375987" stroke="#2a4870" stroke-width="0.4"/><circle cx="152.2" cy="373.9" r="1.55" fill="#375987" stroke="#2a4870" stroke-width="0.4"/><circle cx="155.8" cy="373.9" r="1.55" fill="#375987" stroke="#2a4870" stroke-width="0.4"/><rect x="176.10" y="305.20" width="3.4" height="3.4" fill="none" stroke="#b33a50" stroke-width="0.85"/><rect x="178.70" y="318.00" width="3.4" height="3.4" fill="none" stroke="#b33a50" stroke-width="0.85"/><rect x="173.80" y="322.30" width="3.4" height="3.4" fill="none" stroke="#b33a50" stroke-width="0.85"/><rect x="176.10" y="330.80" width="3.4" height="3.4" fill="none" stroke="#b33a50" stroke-width="0.85"/><rect x="171.40" y="337.70" width="3.4" height="3.4" fill="none" stroke="#b33a50" stroke-width="0.85"/><rect x="180.60" y="338.70" width="3.4" height="3.4" fill="none" stroke="#b33a50" stroke-width="0.85"/><rect x="176.10" y="341.30" width="3.4" height="3.4" fill="none" stroke="#b33a50" stroke-width="0.85"/><rect x="171.40" y="373.70" width="3.4" height="3.4" fill="none" stroke="#b33a50" stroke-width="0.85"/><rect x="176.10" y="372.20" width="3.4" height="3.4" fill="none" stroke="#b33a50" stroke-width="0.85"/><rect x="180.60" y="374.10" width="3.4" height="3.4" fill="none" stroke="#b33a50" stroke-width="0.85"/><rect x="176.10" y="377.10" width="3.4" height="3.4" fill="none" stroke="#b33a50" stroke-width="0.85"/><path d="M146.2,364.2H162.2M154.2,357.1V371.3M150.6,357.1H157.79999999999998M150.6,371.3H157.79999999999998" stroke="#1a1a1a" stroke-width="1.0" fill="none"/><path d="M169.8,346.3H185.8M177.8,320.3V371.3M174.20000000000002,320.3H181.4M174.20000000000002,371.3H181.4" stroke="#1a1a1a" stroke-width="1.0" fill="none"/><text x="253.4" y="289.2" font-size="9.2" text-anchor="middle" textLength="14.1" lengthAdjust="spacingAndGlyphs">IL-2</text><text x="0" y="0" font-size="9" text-anchor="middle" textLength="24" lengthAdjust="spacingAndGlyphs" transform="translate(204.70000000000002,339.5) rotate(-90)">pg/ml</text><path d="M225.9,298.0V381.0H281.7" fill="none" stroke="#231f20" stroke-width="1.1"/><path d="M222.70000000000002,381.00H225.9" stroke="#231f20" stroke-width="0.8"/><text x="219.9" y="383.50" font-size="8.3" text-anchor="end" textLength="4.2" lengthAdjust="spacingAndGlyphs">0</text><path d="M222.70000000000002,360.82H225.9" stroke="#231f20" stroke-width="0.8"/><text x="219.9" y="363.32" font-size="8.3" text-anchor="end" textLength="4.2" lengthAdjust="spacingAndGlyphs">5</text><path d="M222.70000000000002,340.65H225.9" stroke="#231f20" stroke-width="0.8"/><text x="219.9" y="343.15" font-size="8.3" text-anchor="end" textLength="8.4" lengthAdjust="spacingAndGlyphs">10</text><path d="M222.70000000000002,320.48H225.9" stroke="#231f20" stroke-width="0.8"/><text x="219.9" y="322.98" font-size="8.3" text-anchor="end" textLength="8.4" lengthAdjust="spacingAndGlyphs">15</text><path d="M222.70000000000002,300.30H225.9" stroke="#231f20" stroke-width="0.8"/><text x="219.9" y="302.80" font-size="8.3" text-anchor="end" textLength="8.4" lengthAdjust="spacingAndGlyphs">20</text><path d="M241.5,381.0v3" stroke="#231f20" stroke-width="0.8"/><text x="241.5" y="394.0" font-size="8.1" text-anchor="middle" textLength="24.7" lengthAdjust="spacingAndGlyphs">Control</text><path d="M265.1,381.0v3" stroke="#231f20" stroke-width="0.8"/><text x="265.1" y="394.0" font-size="8.6" text-anchor="middle" textLength="8.2" lengthAdjust="spacingAndGlyphs">SS</text><path d="M243.7,354.7H265.2" stroke="#404040" stroke-width="1.0"/><text x="254.9" y="350.8" font-size="7" text-anchor="middle" textLength="7.6" lengthAdjust="spacingAndGlyphs">ns</text><circle cx="241.5" cy="363.5" r="1.55" fill="#375987" stroke="#2a4870" stroke-width="0.4"/><circle cx="236.5" cy="368.5" r="1.55" fill="#375987" stroke="#2a4870" stroke-width="0.4"/><circle cx="246.5" cy="368.5" r="1.55" fill="#375987" stroke="#2a4870" stroke-width="0.4"/><circle cx="239" cy="369.5" r="1.55" fill="#375987" stroke="#2a4870" stroke-width="0.4"/><circle cx="244" cy="369.5" r="1.55" fill="#375987" stroke="#2a4870" stroke-width="0.4"/><circle cx="236" cy="372.5" r="1.55" fill="#375987" stroke="#2a4870" stroke-width="0.4"/><circle cx="239" cy="372.5" r="1.55" fill="#375987" stroke="#2a4870" stroke-width="0.4"/><circle cx="241.5" cy="373" r="1.55" fill="#375987" stroke="#2a4870" stroke-width="0.4"/><circle cx="244" cy="372.5" r="1.55" fill="#375987" stroke="#2a4870" stroke-width="0.4"/><circle cx="246.5" cy="372.5" r="1.55" fill="#375987" stroke="#2a4870" stroke-width="0.4"/><circle cx="240.5" cy="374.5" r="1.55" fill="#375987" stroke="#2a4870" stroke-width="0.4"/><rect x="263.30" y="363.80" width="3.4" height="3.4" fill="none" stroke="#b33a50" stroke-width="0.85"/><rect x="257.30" y="367.30" width="3.4" height="3.4" fill="none" stroke="#b33a50" stroke-width="0.85"/><rect x="260.30" y="366.80" width="3.4" height="3.4" fill="none" stroke="#b33a50" stroke-width="0.85"/><rect x="266.30" y="366.80" width="3.4" height="3.4" fill="none" stroke="#b33a50" stroke-width="0.85"/><rect x="269.30" y="367.80" width="3.4" height="3.4" fill="none" stroke="#b33a50" stroke-width="0.85"/><rect x="256.80" y="369.80" width="3.4" height="3.4" fill="none" stroke="#b33a50" stroke-width="0.85"/><rect x="259.80" y="369.80" width="3.4" height="3.4" fill="none" stroke="#b33a50" stroke-width="0.85"/><rect x="263.30" y="369.30" width="3.4" height="3.4" fill="none" stroke="#b33a50" stroke-width="0.85"/><rect x="266.80" y="369.80" width="3.4" height="3.4" fill="none" stroke="#b33a50" stroke-width="0.85"/><rect x="269.80" y="369.80" width="3.4" height="3.4" fill="none" stroke="#b33a50" stroke-width="0.85"/><rect x="260.30" y="371.80" width="3.4" height="3.4" fill="none" stroke="#b33a50" stroke-width="0.85"/><rect x="264.30" y="371.80" width="3.4" height="3.4" fill="none" stroke="#b33a50" stroke-width="0.85"/><path d="M233.5,371.2H249.5M241.5,368V373.5M237.9,368H245.1M237.9,373.5H245.1" stroke="#1a1a1a" stroke-width="1.0" fill="none"/><path d="M257,370.3H273M265,368.5V372.3M261.4,368.5H268.6M261.4,372.3H268.6" stroke="#1a1a1a" stroke-width="1.0" fill="none"/>
<rect x="318.5" y="27.30" width="111.10" height="10.3" fill="#506a89" stroke="#34507a" stroke-width="0.9"/><rect x="318.5" y="37.90" width="73.10" height="10.3" fill="#a3404c" stroke="#87263a" stroke-width="0.9"/><path d="M430,32.35H456.25M456.25,29.85v5M392,42.85H397M397,40.35v5" stroke="#111" stroke-width="0.8" fill="none"/><text x="405" y="46.15" font-size="5" text-anchor="middle">*</text><path d="M315,37.60H318.5" stroke="#231f20" stroke-width="0.7"/><text x="312.0" y="40.00" font-size="7.6" text-anchor="end" textLength="20.6" lengthAdjust="spacingAndGlyphs">TNF-&#945;</text><rect x="318.5" y="59.84" width="76.85" height="10.3" fill="#506a89" stroke="#34507a" stroke-width="0.9"/><rect x="318.5" y="70.44" width="84.85" height="10.3" fill="#a3404c" stroke="#87263a" stroke-width="0.9"/><path d="M395.75,64.89H408M408,62.39v5M403.75,75.39H417.5M417.5,72.89v5" stroke="#111" stroke-width="0.8" fill="none"/><path d="M315,70.14H318.5" stroke="#231f20" stroke-width="0.7"/><text x="312.0" y="72.54" font-size="7.6" text-anchor="end" textLength="17.5" lengthAdjust="spacingAndGlyphs">INF-&#947;</text><rect x="318.5" y="92.38" width="83.60" height="10.3" fill="#506a89" stroke="#34507a" stroke-width="0.9"/><rect x="318.5" y="102.98" width="88.60" height="10.3" fill="#a3404c" stroke="#87263a" stroke-width="0.9"/><path d="M402.5,97.43H418.25M418.25,94.93v5M407.5,107.93H423.25M423.25,105.43v5" stroke="#111" stroke-width="0.8" fill="none"/><path d="M315,102.68H318.5" stroke="#231f20" stroke-width="0.7"/><text x="312.0" y="105.08" font-size="7.6" text-anchor="end" textLength="15.6" lengthAdjust="spacingAndGlyphs">IL-23</text><rect x="318.5" y="124.92" width="82.85" height="10.3" fill="#506a89" stroke="#34507a" stroke-width="0.9"/><rect x="318.5" y="135.52" width="86.85" height="10.3" fill="#a3404c" stroke="#87263a" stroke-width="0.9"/><path d="M401.75,129.97H413.75M413.75,127.47v5M405.75,140.47H414.5M414.5,137.97v5" stroke="#111" stroke-width="0.8" fill="none"/><path d="M315,135.22H318.5" stroke="#231f20" stroke-width="0.7"/><text x="312.0" y="137.62" font-size="7.6" text-anchor="end" textLength="15.6" lengthAdjust="spacingAndGlyphs">IL-17</text><rect x="318.5" y="157.46" width="72.85" height="10.3" fill="#506a89" stroke="#34507a" stroke-width="0.9"/><rect x="318.5" y="168.06" width="116.10" height="10.3" fill="#a3404c" stroke="#87263a" stroke-width="0.9"/><path d="M391.75,162.51H398M398,160.01v5M435,173.01H454.5M454.5,170.51v5" stroke="#111" stroke-width="0.8" fill="none"/><text x="462" y="176.31" font-size="5" text-anchor="middle">*</text><path d="M315,167.76H318.5" stroke="#231f20" stroke-width="0.7"/><text x="312.0" y="170.16" font-size="7.6" text-anchor="end" textLength="15.6" lengthAdjust="spacingAndGlyphs">IL-13</text><rect x="318.5" y="190.00" width="79.10" height="10.3" fill="#506a89" stroke="#34507a" stroke-width="0.9"/><rect x="318.5" y="200.60" width="87.35" height="10.3" fill="#a3404c" stroke="#87263a" stroke-width="0.9"/><path d="M398,195.05H407.5M407.5,192.55v5M406.25,205.55H418M418,203.05v5" stroke="#111" stroke-width="0.8" fill="none"/><path d="M315,200.30H318.5" stroke="#231f20" stroke-width="0.7"/><text x="312.0" y="202.70" font-size="7.6" text-anchor="end" textLength="15.6" lengthAdjust="spacingAndGlyphs">IL-12</text><rect x="318.5" y="222.54" width="73.10" height="10.3" fill="#506a89" stroke="#34507a" stroke-width="0.9"/><rect x="318.5" y="233.14" width="73.10" height="10.3" fill="#a3404c" stroke="#87263a" stroke-width="0.9"/><path d="M392,227.59H400.5M400.5,225.09v5M392,238.09H396.75M396.75,235.59v5" stroke="#111" stroke-width="0.8" fill="none"/><path d="M315,232.84H318.5" stroke="#231f20" stroke-width="0.7"/><text x="312.0" y="235.24" font-size="7.6" text-anchor="end" textLength="15.6" lengthAdjust="spacingAndGlyphs">IL-10</text><rect x="318.5" y="255.08" width="65.60" height="10.3" fill="#506a89" stroke="#34507a" stroke-width="0.9"/><rect x="318.5" y="265.68" width="121.60" height="10.3" fill="#a3404c" stroke="#87263a" stroke-width="0.9"/><path d="M384.5,260.13H390M390,257.63v5M440.5,270.63H462M462,268.13v5" stroke="#111" stroke-width="0.8" fill="none"/><text x="469.5" y="273.93" font-size="5" text-anchor="middle">*</text><path d="M315,265.38H318.5" stroke="#231f20" stroke-width="0.7"/><text x="312.0" y="267.78" font-size="7.6" text-anchor="end" textLength="11.6" lengthAdjust="spacingAndGlyphs">IL-7</text><rect x="318.5" y="287.62" width="94.10" height="10.3" fill="#506a89" stroke="#34507a" stroke-width="0.9"/><rect x="318.5" y="298.22" width="96.10" height="10.3" fill="#a3404c" stroke="#87263a" stroke-width="0.9"/><path d="M413,292.67H426.25M426.25,290.17v5M415,303.17H423M423,300.67v5" stroke="#111" stroke-width="0.8" fill="none"/><path d="M315,297.92H318.5" stroke="#231f20" stroke-width="0.7"/><text x="312.0" y="300.32" font-size="7.6" text-anchor="end" textLength="11.6" lengthAdjust="spacingAndGlyphs">IL-6</text><rect x="318.5" y="320.16" width="78.10" height="10.3" fill="#506a89" stroke="#34507a" stroke-width="0.9"/><rect x="318.5" y="330.76" width="110.35" height="10.3" fill="#a3404c" stroke="#87263a" stroke-width="0.9"/><path d="M397,325.21H400.75M400.75,322.71v5M429.25,335.71H437.5M437.5,333.21v5" stroke="#111" stroke-width="0.8" fill="none"/><text x="445.5" y="339.01" font-size="5" text-anchor="middle">*</text><path d="M315,330.46H318.5" stroke="#231f20" stroke-width="0.7"/><text x="312.0" y="332.86" font-size="7.6" text-anchor="end" textLength="11.6" lengthAdjust="spacingAndGlyphs">IL-4</text><rect x="318.5" y="352.70" width="91.60" height="10.3" fill="#506a89" stroke="#34507a" stroke-width="0.9"/><rect x="318.5" y="363.30" width="91.60" height="10.3" fill="#a3404c" stroke="#87263a" stroke-width="0.9"/><path d="M410.5,357.75H420.5M420.5,355.25v5M410.5,368.25H419.5M419.5,365.75v5" stroke="#111" stroke-width="0.8" fill="none"/><path d="M315,363.00H318.5" stroke="#231f20" stroke-width="0.7"/><text x="312.0" y="365.40" font-size="7.6" text-anchor="end" textLength="11.6" lengthAdjust="spacingAndGlyphs">IL-2</text><path d="M318.5,22.2V379.4H508" fill="none" stroke="#231f20" stroke-width="0.9"/><path d="M318.5,379.3v3.6" stroke="#231f20" stroke-width="0.8"/><text x="318.5" y="392.7" font-size="8.0" text-anchor="middle" textLength="4.1" lengthAdjust="spacingAndGlyphs">0</text><path d="M356.0,379.3v3.6" stroke="#231f20" stroke-width="0.8"/><text x="356.0" y="392.7" font-size="8.0" text-anchor="middle" textLength="8.2" lengthAdjust="spacingAndGlyphs">50</text><path d="M393.5,379.3v3.6" stroke="#231f20" stroke-width="0.8"/><text x="393.5" y="392.7" font-size="8.0" text-anchor="middle" textLength="12.3" lengthAdjust="spacingAndGlyphs">100</text><path d="M431.0,379.3v3.6" stroke="#231f20" stroke-width="0.8"/><text x="431.0" y="392.7" font-size="8.0" text-anchor="middle" textLength="12.3" lengthAdjust="spacingAndGlyphs">150</text><path d="M468.5,379.3v3.6" stroke="#231f20" stroke-width="0.8"/><text x="468.5" y="392.7" font-size="8.0" text-anchor="middle" textLength="12.3" lengthAdjust="spacingAndGlyphs">200</text><path d="M506.0,379.3v3.6" stroke="#231f20" stroke-width="0.8"/><text x="506.0" y="392.7" font-size="8.0" text-anchor="middle" textLength="12.3" lengthAdjust="spacingAndGlyphs">250</text><text x="350.6" y="405.3" font-size="8.6" text-anchor="start" textLength="123.6" lengthAdjust="spacingAndGlyphs">CD47 expression (% of control)</text>
<rect x="0" y="0" width="520" height="1" fill="#000"/><rect x="0" y="0" width="1" height="416" fill="#000"/><rect x="518.75" y="0" width="1.25" height="416" fill="#000"/><rect x="0" y="414.8" width="520" height="1.2" fill="#000"/>
</svg>
</body></html>
